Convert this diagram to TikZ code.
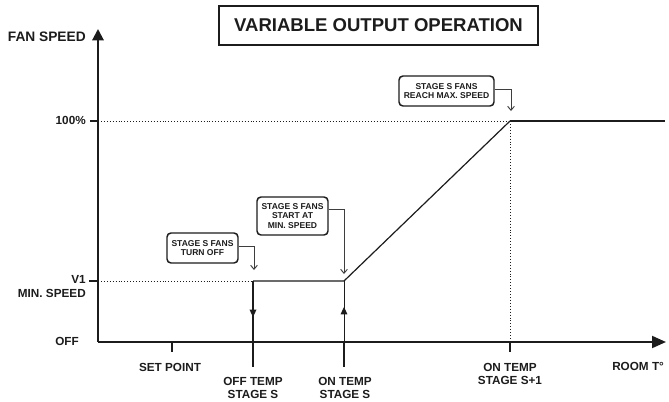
\documentclass[tikz,border=0pt]{standalone}
\usepackage{fontspec}
\setmainfont{Liberation Sans}
\usetikzlibrary{arrows.meta,decorations.markings}
\definecolor{ink}{HTML}{1C1C1C}
\begin{document}
\begin{tikzpicture}[x=0.75pt,y=-0.75pt,
  lbl/.style={font=\fontsize{8.8}{10.2}\selectfont\bfseries, inner sep=0pt, text=ink},
  axisline/.style={draw=ink, line width=1.5pt},
  tickline/.style={draw=ink, line width=1.5pt},
  guide/.style={draw=ink, line width=0.6pt, dash pattern=on 0.6pt off 1.6pt},
  curve/.style={draw=ink, line width=0.9pt},
  upper/.style={draw=ink, line width=1.3pt},
  callbox/.style={draw=ink, rounded corners=3pt, line width=1.1pt, align=center,
    font=\fontsize{6.4}{7.3}\selectfont\bfseries, inner sep=0pt, text=ink},
  callout/.style={draw=ink!85, line width=0.7pt, -{Straight Barb[length=3pt,width=5pt]}},
  midtip/.style={postaction={decorate}, decoration={markings,
    mark=at position #1 with {\arrow{Triangle[length=5.5pt,width=5pt]}}}}
]
\useasboundingbox (0,0) rectangle (669,401);

% title
\node[draw=ink, line width=1.1pt, minimum width=239.25pt, minimum height=29.25pt,
  inner sep=0pt, font=\fontsize{13.9}{16}\selectfont\bfseries, text=ink]
  (title) at (378.5,25.5) {VARIABLE OUTPUT OPERATION};

% key points of the chart
\coordinate (O) at (98,342);
\coordinate (ytop) at (98,29);
\coordinate (xend) at (666,342);
\coordinate (y100) at (98,121);
\coordinate (y100t) at (90,121);
\coordinate (yV1) at (98,281);
\coordinate (yV1t) at (89,281);
\coordinate (offV) at (253,281);
\coordinate (offB) at (253,342);
\coordinate (offT) at (253,367);
\coordinate (onV) at (344,281);
\coordinate (onB) at (344,342);
\coordinate (onT) at (344,367);
\coordinate (maxP) at (510,121);
\coordinate (lineEnd) at (665,121);
\coordinate (spB) at (172,342);
\coordinate (spT) at (172,352);
\coordinate (s1B) at (510,342);
\coordinate (s1T) at (510,352);

% dotted guide lines
\draw[guide] (y100) -- (maxP);
\draw[guide] (yV1) -- (offV);
\draw[guide] (maxP) -- (s1B);

% fan speed curve
\draw[curve] (offV) -- (onV) -- (maxP);
\draw[upper] (maxP) -- (lineEnd);

% switching lines with direction arrows
\draw[draw=ink, line width=0.9pt, midtip=0.59] (offV) -- (offB);
\draw[draw=ink, line width=0.7pt, midtip=0.574] (onB) -- (onV);

% axes
\draw[axisline, -{Triangle[length=8.5pt,width=8.5pt]}] (O) -- (ytop);
\draw[axisline, -{Triangle[length=10.5pt,width=9pt]}] (O) -- (xend);

% ticks
\draw[tickline] (y100t) -- (y100);
\draw[tickline] (yV1t) -- (yV1);
\draw[tickline] (spB) -- (spT);
\draw[tickline] (offB) -- (offT);
\draw[tickline] (onB) -- (onT);
\draw[tickline] (s1B) -- (s1T);

% axis labels
\node[lbl, font=\fontsize{10.3}{12}\selectfont\bfseries, anchor=base east] (fan) at (86,41) {FAN SPEED};
\node[lbl, anchor=base east] (p100) at (86,124) {100\%};
\node[lbl, anchor=base east] (v1) at (86,283) {V1};
\node[lbl, anchor=base east] (minspd) at (86,297) {MIN. SPEED};
\node[lbl, anchor=base east] (offlbl) at (79,345) {OFF};
\node[lbl, anchor=base] (setpt) at (170,371) {SET POINT};
\node[lbl, anchor=north, align=center] (offtemp) at (253,377) {OFF TEMP\\[-0.4pt]STAGE S};
\node[lbl, anchor=north, align=center] (ontemp) at (345,377) {ON TEMP\\[-0.4pt]STAGE S};
\node[lbl, anchor=north, align=center] (ontemp1) at (510,363) {ON TEMP\\[-0.4pt]STAGE S+1};
\node[lbl, anchor=base west] (room) at (612,370) {ROOM T°};

% callouts
\node[callbox, minimum width=53.25pt, minimum height=22.5pt] (cA) at (202.5,248) {STAGE S FANS\\TURN OFF};
\node[callbox, minimum width=53.25pt, minimum height=28.5pt] (cB) at (292.5,216) {STAGE S FANS\\START AT\\MIN. SPEED};
\node[callbox, minimum width=71.25pt, minimum height=22.5pt] (cC) at (446.5,91) {STAGE S FANS\\REACH MAX. SPEED};

\coordinate (tipA) at (254,270);
\coordinate (tipB) at (344,274);
\coordinate (tipC) at (511,111);
\draw[callout] ([yshift=1.5pt]cA.east) -| (tipA);
\draw[callout] ([yshift=5.25pt]cB.east) -| (tipB);
\draw[callout] ([yshift=1.5pt]cC.east) -| (tipC);
\end{tikzpicture}
\end{document}
